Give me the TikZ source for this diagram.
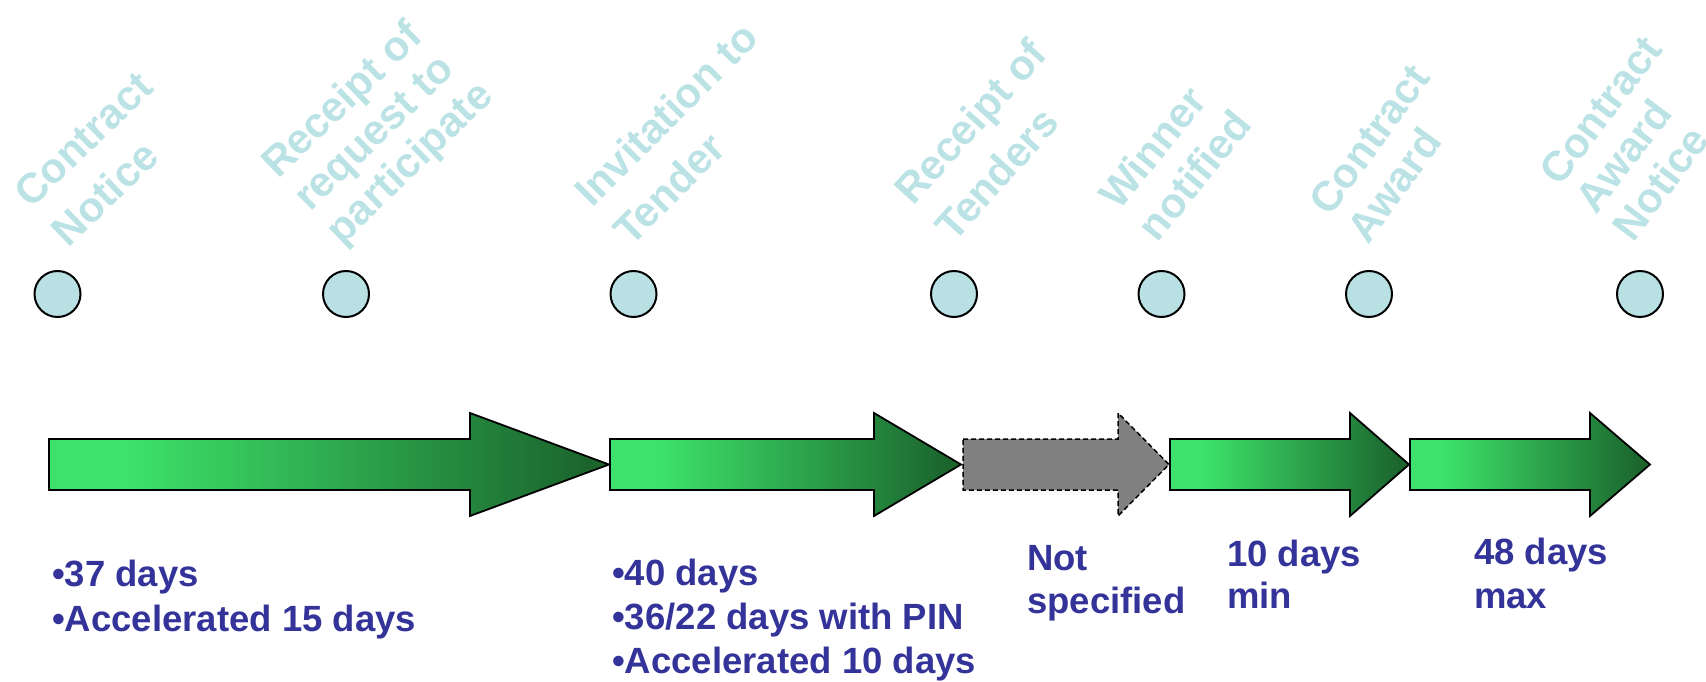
\documentclass[tikz,border=0pt]{standalone}
\usepackage{fontspec}
\setmainfont{Liberation Sans}

\definecolor{gLight}{RGB}{61,226,106}
\definecolor{gDark}{RGB}{27,101,45}
\definecolor{navy}{RGB}{51,51,153}
\definecolor{pale}{RGB}{187,226,229}
\definecolor{dotfill}{RGB}{185,224,227}
\definecolor{stepgrey}{RGB}{128,128,128}

% light-to-dark green fade along each block arrow
\pgfdeclarehorizontalshading{arrowfade}{100bp}{color(0bp)=(gLight); color(32bp)=(gLight); color(73bp)=(gDark); color(100bp)=(gDark)}

% stacked lines with a fixed line pitch; baseline = first line
\newcommand\linestack[2]{\vtop{\baselineskip=#1\relax #2}}

% block arrow: shaft from #2 to head base #3, tip at #4
\newcommand\blockarrow[4][]{%
  \path[#1] (#2,439) -- (#3,439) -- (#3,413) -- (#4,464.5) -- (#3,516) -- (#3,490) -- (#2,490) -- cycle;}

\begin{document}
\begin{tikzpicture}[x=1pt, y=-1pt,
  milestone/.style={font=\bfseries\fontsize{42}{42}\selectfont, text=pale,
    inner sep=0pt, anchor=base west},
  dot/.style={circle, draw=black, line width=2pt, fill=dotfill,
    minimum size=46pt, inner sep=0pt},
  greenstep/.style={draw=black, line width=1.8pt, line join=miter,
    shade, shading=arrowfade},
  openstep/.style={draw=black, line width=1.5pt, dash pattern=on 5pt off 3pt,
    fill=stepgrey},
  note/.style={font=\bfseries\fontsize{36.5}{44}\selectfont, text=navy,
    inner sep=0pt, anchor=base west}]

\useasboundingbox (0,0) rectangle (1706,682);

% milestone captions
\node[milestone, rotate=44] (l1) at (31,210)
  {\linestack{54pt}{\hbox{Contract}\hbox{Notice}}};
\node[milestone, rotate=44] (l2) at (278,180)
  {\linestack{46pt}{\hbox{Receipt of}\hbox{request to}\hbox{participate}}};
\node[milestone, rotate=45] (l3) at (592,209)
  {\linestack{55pt}{\hbox{Invitation to}\hbox{Tender}}};
\node[milestone, rotate=48] (l4) at (913,207)
  {\linestack{55pt}{\hbox{Receipt of}\hbox{Tenders}}};
\node[milestone, rotate=51] (l5) at (1119,212)
  {\linestack{50pt}{\hbox{Winner}\hbox{notified}}};
\node[milestone, rotate=54] (l6) at (1330,218)
  {\linestack{47pt}{\hbox{Contract}\hbox{Award}}};
\node[milestone, rotate=53] (l7) at (1560,188)
  {\linestack{46pt}{\hbox{Contract}\hbox{Award}\hbox{Notice}}};

% milestone dots
\node[dot] (d1) at (57.5,294) {};
\node[dot] (d2) at (346,294) {};
\node[dot] (d3) at (633.5,294) {};
\node[dot] (d4) at (954,294) {};
\node[dot] (d5) at (1161.5,294) {};
\node[dot] (d6) at (1369,294) {};
\node[dot] (d7) at (1640,294) {};

% stage arrows
\blockarrow[greenstep]{49}{470}{609}
\blockarrow[greenstep]{610}{874}{961}
\blockarrow[openstep]{963}{1118}{1169}
\blockarrow[greenstep]{1170}{1350}{1409}
\blockarrow[greenstep]{1410}{1590}{1650}

% durations
\node[note] (t1) at (52,586)
  {\linestack{45pt}{\hbox{•37 days}\hbox{•Accelerated 15 days}}};
\node[note] (t2) at (612,585)
  {\linestack{44pt}{\hbox{•40 days}\hbox{•36/22 days with PIN}\hbox{•Accelerated 10 days}}};
\node[note] (t3) at (1027,570)
  {\linestack{43pt}{\hbox{Not}\hbox{specified}}};
\node[note] (t4) at (1227,566)
  {\linestack{42pt}{\hbox{10 days}\hbox{min}}};
\node[note] (t5) at (1474,564)
  {\linestack{44pt}{\hbox{48 days}\hbox{max}}};
\end{tikzpicture}
\end{document}
